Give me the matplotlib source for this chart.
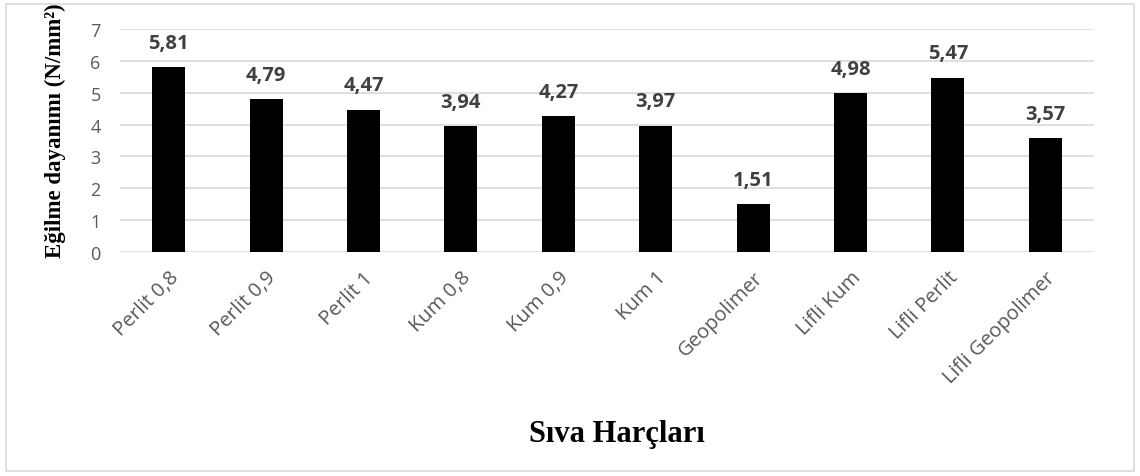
import matplotlib.pyplot as plt
from matplotlib.patches import Rectangle

# Harç türleri ve eğilme dayanımı değerleri
harclar = ["Perlit 0,8", "Perlit 0,9", "Perlit 1", "Kum 0,8", "Kum 0,9",
           "Kum 1", "Geopolimer", "Lifli Kum", "Lifli Perlit", "Lifli Geopolimer"]
egilme = [5.81, 4.79, 4.47, 3.94, 4.27, 3.97, 1.51, 4.98, 5.47, 3.57]
y_ticks = [0, 1, 2, 3, 4, 5, 6, 7]

fig = plt.figure(figsize=(11.4, 4.77), dpi=100)
ax = fig.add_axes([0.1053, 0.4696, 0.8543, 0.4675])

x = range(len(harclar))
ax.bar(x, egilme, width=0.34, color="black", zorder=3)

# Çubuk üstü değer etiketleri (virgüllü)
for i, v in enumerate(egilme):
    ax.text(i, v + 0.45, f"{v:.2f}".replace(".", ","), ha="center", va="bottom",
            fontsize=14.5, fontweight="bold", color="#404040", family="Open Sans")

ax.set_xlim(-0.5, len(harclar) - 0.5)
ax.set_ylim(0, 7)
ax.set_yticks(y_ticks)
ax.yaxis.grid(True, color="#d9d9d9", linewidth=1.2, zorder=0)
for s in ax.spines.values():
    s.set_visible(False)
ax.tick_params(length=0, colors="#595959")
ax.tick_params(axis="y", pad=14, labelsize=13)
ax.tick_params(axis="x", pad=11, labelsize=14.5)
ax.set_xticks(list(x))
ax.set_xticklabels(harclar, rotation=45, ha="right", rotation_mode="anchor", family="Open Sans")
for lbl in ax.get_yticklabels():
    lbl.set_family("Open Sans")

ax.set_ylabel("Eğilme dayanımı (N/mm²)", fontsize=16.5, fontweight="bold",
              family="Liberation Serif")
ax.yaxis.set_label_coords(-0.055, 0.55)
fig.text(0.541, 0.09, "Sıva Harçları", fontsize=22, fontweight="bold",
         family="Liberation Serif", ha="center", va="center")

# ince gri çerçeve
fig.patches.append(Rectangle((0.005, 0.01), 0.99, 0.98, transform=fig.transFigure,
                             fill=False, edgecolor="#d9d9d9", linewidth=1.2))

fig.savefig("out.png", dpi=100)
